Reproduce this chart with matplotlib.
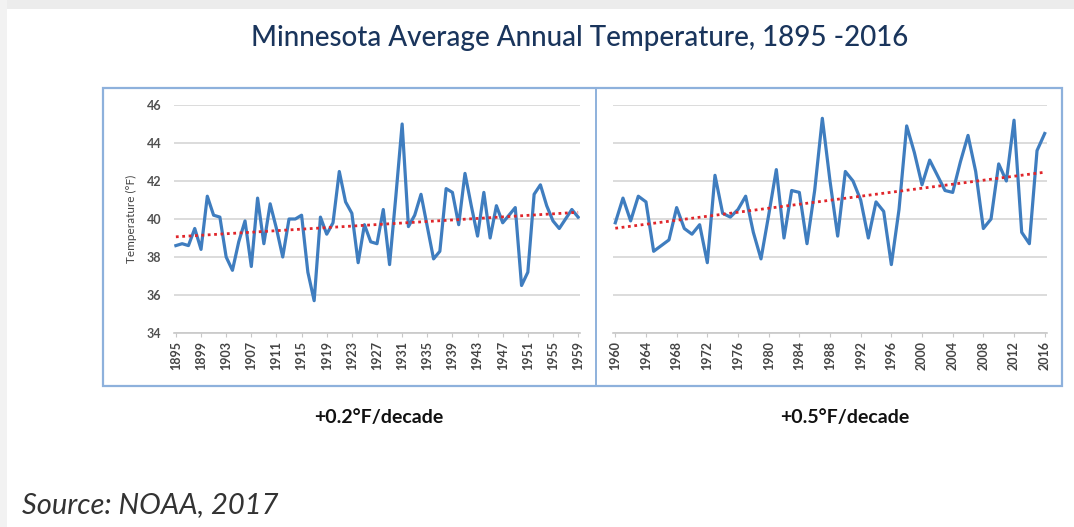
import numpy as np
import matplotlib
matplotlib.use("Agg")
import matplotlib.pyplot as plt
from matplotlib.patches import Rectangle
from matplotlib.lines import Line2D

plt.rcParams['font.family'] = ['Lato', 'DejaVu Sans']

# ---------------- data ----------------
years_early = list(range(1895, 1960))
temps_early = [38.6, 38.7, 38.6, 39.5, 38.4, 41.2, 40.2, 40.1, 38.0, 37.3,
               38.8, 39.9, 37.5, 41.1, 38.7, 40.8, 39.5, 38.0, 40.0, 40.0,
               40.2, 37.2, 35.7, 40.1, 39.2, 39.8, 42.5, 40.9, 40.3, 37.7,
               39.7, 38.8, 38.7, 40.5, 37.6, 41.2, 45.0, 39.6, 40.2, 41.3,
               39.6, 37.9, 38.3, 41.6, 41.4, 39.7, 42.4, 40.7, 39.1, 41.4,
               39.0, 40.7, 39.8, 40.2, 40.6, 36.5, 37.2, 41.3, 41.8, 40.7,
               39.9, 39.5, 40.0, 40.5, 40.1]

years_late = list(range(1960, 2017))
temps_late = [39.8, 41.1, 39.9, 41.2, 40.9, 38.3, 38.6, 38.9, 40.6, 39.5,
              39.2, 39.7, 37.7, 42.3, 40.3, 40.1, 40.5, 41.2, 39.3, 37.9,
              40.2, 42.6, 39.0, 41.5, 41.4, 38.7, 41.5, 45.3, 42.0, 39.1,
              42.5, 42.0, 41.0, 39.0, 40.9, 40.4, 37.6, 40.5, 44.9, 43.5,
              41.8, 43.1, 42.3, 41.5, 41.4, 43.0, 44.4, 42.5, 39.5, 40.0,
              42.9, 42.0, 45.2, 39.3, 38.7, 43.6, 44.5]

ticks_early = list(range(1895, 1960, 4))
ticks_late = list(range(1960, 2017, 4))
yticks = [34, 36, 38, 40, 42, 44, 46]

title = "Minnesota Average Annual Temperature, 1895 -2016"
rate_early = "+0.2°F/decade"
rate_late = "+0.5°F/decade"
source = "Source: NOAA, 2017"

# ---------------- figure ----------------
W, H = 1074, 527
fig = plt.figure(figsize=(W / 100, H / 100), dpi=100)

def fx(px):
    return px / W

def fy(py):
    return 1 - py / H

# screenshot-like borders
fig.patches.append(Rectangle((0, fy(9)), 1, 9 / H, transform=fig.transFigure,
                             facecolor='#ececec', edgecolor='none', zorder=0))
fig.patches.append(Rectangle((0, 0), 7 / W, 1, transform=fig.transFigure,
                             facecolor='#f2f2f2', edgecolor='none', zorder=0))

# outer chart box
fig.patches.append(Rectangle((fx(103), fy(386)), fx(1062) - fx(103), fy(88) - fy(386),
                             transform=fig.transFigure, facecolor='none',
                             edgecolor='#8eb1dc', lw=1.6, zorder=1))
fig.lines.append(Line2D([fx(596), fx(596)], [fy(386), fy(88)], transform=fig.transFigure,
                        color='#8eb1dc', lw=1.4))

line_color = '#3f7dbf'
trend_color = '#e0262b'
grid_color = '#d9d9d9'

def style_axes(ax, years, temps, ticks, show_y):
    ax.plot(years, temps, color=line_color, lw=2.3, solid_joinstyle='round', zorder=3)
    coef = np.polyfit(years, temps, 1)
    xs = np.array([years[0], years[-1]])
    ax.plot(xs, np.polyval(coef, xs), color=trend_color, lw=2.0,
            linestyle=(0, (1, 1.3)), zorder=4)
    ax.set_xlim(years[0] - 0.3, years[-1] + 0.3)
    ax.set_ylim(34, 46)
    ax.set_yticks(yticks)
    ax.yaxis.grid(True, color=grid_color, lw=1.3)
    ax.set_axisbelow(True)
    for s in ['top', 'right', 'left']:
        ax.spines[s].set_visible(False)
    ax.spines['bottom'].set_color('#c8c8c8')
    ax.spines['bottom'].set_linewidth(1.2)
    ax.set_xticks(ticks)
    ax.set_xticklabels([str(t) for t in ticks], rotation=90, fontsize=9,
                       fontweight='bold', color='#444444')
    ax.tick_params(axis='x', length=3, color='#c8c8c8', pad=3)
    ax.tick_params(axis='y', length=0, pad=9)
    if show_y:
        ax.set_yticklabels([str(t) for t in yticks], fontsize=9,
                           fontweight='bold', color='#505050')
    else:
        ax.set_yticklabels([])

ax1 = fig.add_axes([fx(174), fy(333), fx(580) - fx(174), fy(105) - fy(333)])
style_axes(ax1, years_early, temps_early, ticks_early, True)
ax1.set_ylabel("Temperature (°F)", fontsize=8.5, color='#444444', labelpad=7)

ax2 = fig.add_axes([fx(613), fy(333), fx(1047) - fx(613), fy(105) - fy(333)])
style_axes(ax2, years_late, temps_late, ticks_late, False)

# texts
fig.text(fx(580), fy(38), title, ha='center', va='center', fontsize=20,
         color='#1a355c', fontweight='medium')
fig.text(fx(379), fy(418), rate_early, ha='center', va='center', fontsize=14,
         fontweight='bold', color='#111111')
fig.text(fx(845), fy(418), rate_late, ha='center', va='center', fontsize=14,
         fontweight='bold', color='#111111')
fig.text(fx(22), fy(505), source, ha='left', va='center', fontsize=21,
         style='italic', color='#333333')

fig.savefig("out.png", dpi=100, facecolor='white')
